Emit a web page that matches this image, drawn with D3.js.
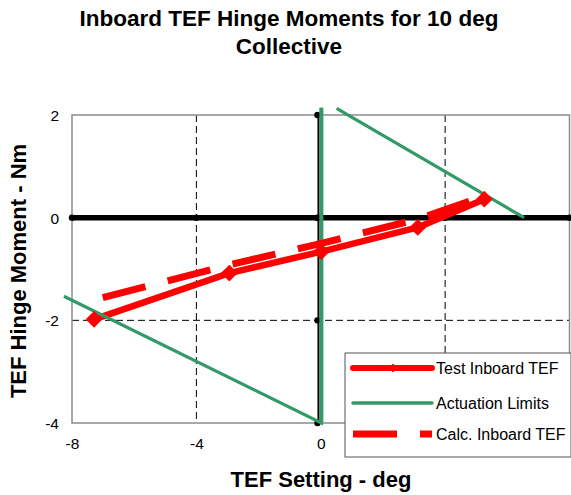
<!DOCTYPE html>
<html>
<head>
<meta charset="utf-8">
<script src="https://cdn.jsdelivr.net/npm/d3@7"></script>
<style>
  body { margin: 0; background: #fff; }
  svg { display: block; font-family: "Liberation Sans", Arial, sans-serif; }
</style>
</head>
<body>
<main></main>
<script>
// data
const testX = [-7.29, -2.94, 0.02, 3.12, 5.26];
const testY = [-1.98, -1.08, -0.66, -0.19, 0.36];
const calcY = [-1.60, -0.92, -0.50, -0.03, 0.42];
const limitLowX = [-8.26, 0.02, 0.02];
const limitLowY = [-1.53, -4, 2.14];
const limitUpX = [0.51, 6.54];
const limitUpY = [2.13, 0];
const xTicks = [-8, -4, 0, 4, 8];
const xLabels = [-8, -4, 0]; // 4 and 8 sit under the legend
const yTicks = [-4, -2, 0, 2];
const seriesNames = ["Test Inboard TEF", "Actuation Limits", "Calc. Inboard TEF"];

const W = 571, H = 495;
const red = "#ff0000", green = "#339966";

const x = d3.scaleLinear().domain([-8, 8]).range([72, 569.5]);
const y = d3.scaleLinear().domain([-4, 2]).range([423, 115]);

const svg = d3.select("main").append("svg").attr("width", W).attr("height", H);

// dashed gridlines
svg.append("g").selectAll("line")
  .data([-4, 4]).enter().append("line")
  .attr("x1", d => x(d)).attr("x2", d => x(d))
  .attr("y1", y(2)).attr("y2", y(-4))
  .attr("stroke", "#000").attr("stroke-width", 1).attr("stroke-dasharray", "7,4");
svg.append("line")
  .attr("x1", x(-8)).attr("x2", x(8)).attr("y1", y(-2)).attr("y2", y(-2))
  .attr("stroke", "#000").attr("stroke-width", 1).attr("stroke-dasharray", "7,4");

// plot border
svg.append("rect")
  .attr("x", x(-8)).attr("y", y(2))
  .attr("width", x(8) - x(-8)).attr("height", y(-4) - y(2))
  .attr("fill", "none").attr("stroke", "#8c8c8c").attr("stroke-width", 1.5);

// axis lines through zero
svg.append("line")
  .attr("x1", x(-8)).attr("x2", x(8)).attr("y1", y(0)).attr("y2", y(0))
  .attr("stroke", "#000").attr("stroke-width", 5.5);
const axX = x(0) - 2.3;
svg.append("line")
  .attr("x1", axX).attr("x2", axX).attr("y1", y(2)).attr("y2", y(-4))
  .attr("stroke", "#000").attr("stroke-width", 2);

// tick dots
svg.append("g").selectAll("circle")
  .data(xTicks).enter().append("circle")
  .attr("cx", d => (d === 0 ? axX : x(d))).attr("cy", y(0)).attr("r", 3.2).attr("fill", "#000");
svg.append("g").selectAll("circle")
  .data(yTicks).enter().append("circle")
  .attr("cx", axX - 1).attr("cy", d => y(d)).attr("r", 3.2).attr("fill", "#000");

// tick labels
const xAxis = svg.append("g")
  .attr("transform", `translate(0,${y(-4) + 12})`)
  .call(d3.axisBottom(x).tickValues(xLabels).tickSize(0).tickFormat(d => String(d)));
const yAxis = svg.append("g")
  .attr("transform", `translate(${x(-8) - 13},0)`)
  .call(d3.axisLeft(y).tickValues(yTicks).tickSize(0).tickFormat(d => String(d)));
[xAxis, yAxis].forEach(g => {
  g.select(".domain").remove();
  g.selectAll("text")
    .style("font-family", "'Liberation Sans', Arial, sans-serif")
    .style("font-size", "15.5px").attr("fill", "#000");
});
yAxis.selectAll("text").attr("x", 0).attr("dy", "0.35em");

const line = d3.line().x(d => x(d[0])).y(d => y(d[1]));
const testPts = testX.map((v, i) => [v, testY[i]]);
const calcPts = testX.map((v, i) => [v, calcY[i]]);
const lowPts = limitLowX.map((v, i) => [v, limitLowY[i]]);
const upPts = limitUpX.map((v, i) => [v, limitUpY[i]]);

// test line
svg.append("path").datum(testPts).attr("d", line)
  .attr("fill", "none").attr("stroke", red).attr("stroke-width", 6.5)
  .attr("stroke-linejoin", "round");

// actuation limits
[lowPts, upPts].forEach(pts => {
  svg.append("path").datum(pts).attr("d", line)
    .attr("fill", "none").attr("stroke", green).attr("stroke-width", 3.2);
});
svg.append("line")
  .attr("x1", x(limitLowX[1])).attr("x2", x(limitLowX[2]))
  .attr("y1", y(limitLowY[1])).attr("y2", y(limitLowY[2]))
  .attr("stroke", green).attr("stroke-width", 4);

// calc line
svg.append("path").datum(calcPts).attr("d", line)
  .attr("fill", "none").attr("stroke", red).attr("stroke-width", 7)
  .attr("stroke-dasharray", "44,23").attr("stroke-dashoffset", 58);

// diamond markers
const diamond = d3.symbol().type(d3.symbolSquare).size(140);
svg.append("g").selectAll("path")
  .data(testPts).enter().append("path")
  .attr("d", diamond)
  .attr("transform", d => `translate(${x(d[0])},${y(d[1])}) rotate(45)`)
  .attr("fill", red);

// legend
const lg = svg.append("g").attr("transform", "translate(345,353)");
lg.append("rect").attr("width", 226).attr("height", 104)
  .attr("fill", "#fff").attr("stroke", "#555").attr("stroke-width", 1);
const rowY = [15, 50, 81];
seriesNames.forEach((name, i) => {
  const row = lg.append("g").attr("transform", `translate(0,${rowY[i]})`);
  const l = row.append("line").attr("x1", 8).attr("x2", 87).attr("y1", 0).attr("y2", 0);
  if (i === 0) {
    l.attr("stroke", red).attr("stroke-width", 6).attr("stroke-linecap", "round");
    row.append("path").attr("d", d3.symbol().type(d3.symbolSquare).size(40))
      .attr("transform", "translate(48,0) rotate(45)").attr("fill", red);
  } else if (i === 1) {
    l.attr("stroke", green).attr("stroke-width", 3.5).attr("stroke-linecap", "round");
  } else {
    l.attr("stroke", red).attr("stroke-width", 7).attr("stroke-dasharray", "44,23");
  }
  row.append("text").attr("x", 91).attr("dy", "0.35em")
    .style("font-size", "16px").text(name);
});

// titles
const title = svg.append("text")
  .attr("text-anchor", "middle").style("font-size", "22.5px").style("font-weight", "bold");
title.append("tspan").attr("x", 289).attr("y", 26).text("Inboard TEF Hinge Moments for 10 deg");
title.append("tspan").attr("x", 289).attr("y", 54).text("Collective");

svg.append("text")
  .attr("x", 321).attr("y", 487)
  .attr("text-anchor", "middle").style("font-size", "22px").style("font-weight", "bold")
  .text("TEF Setting - deg");

svg.append("text")
  .attr("transform", "translate(26,271) rotate(-90)")
  .attr("text-anchor", "middle").style("font-size", "22px").style("font-weight", "bold")
  .text("TEF Hinge Moment - Nm");
</script>
</body>
</html>
